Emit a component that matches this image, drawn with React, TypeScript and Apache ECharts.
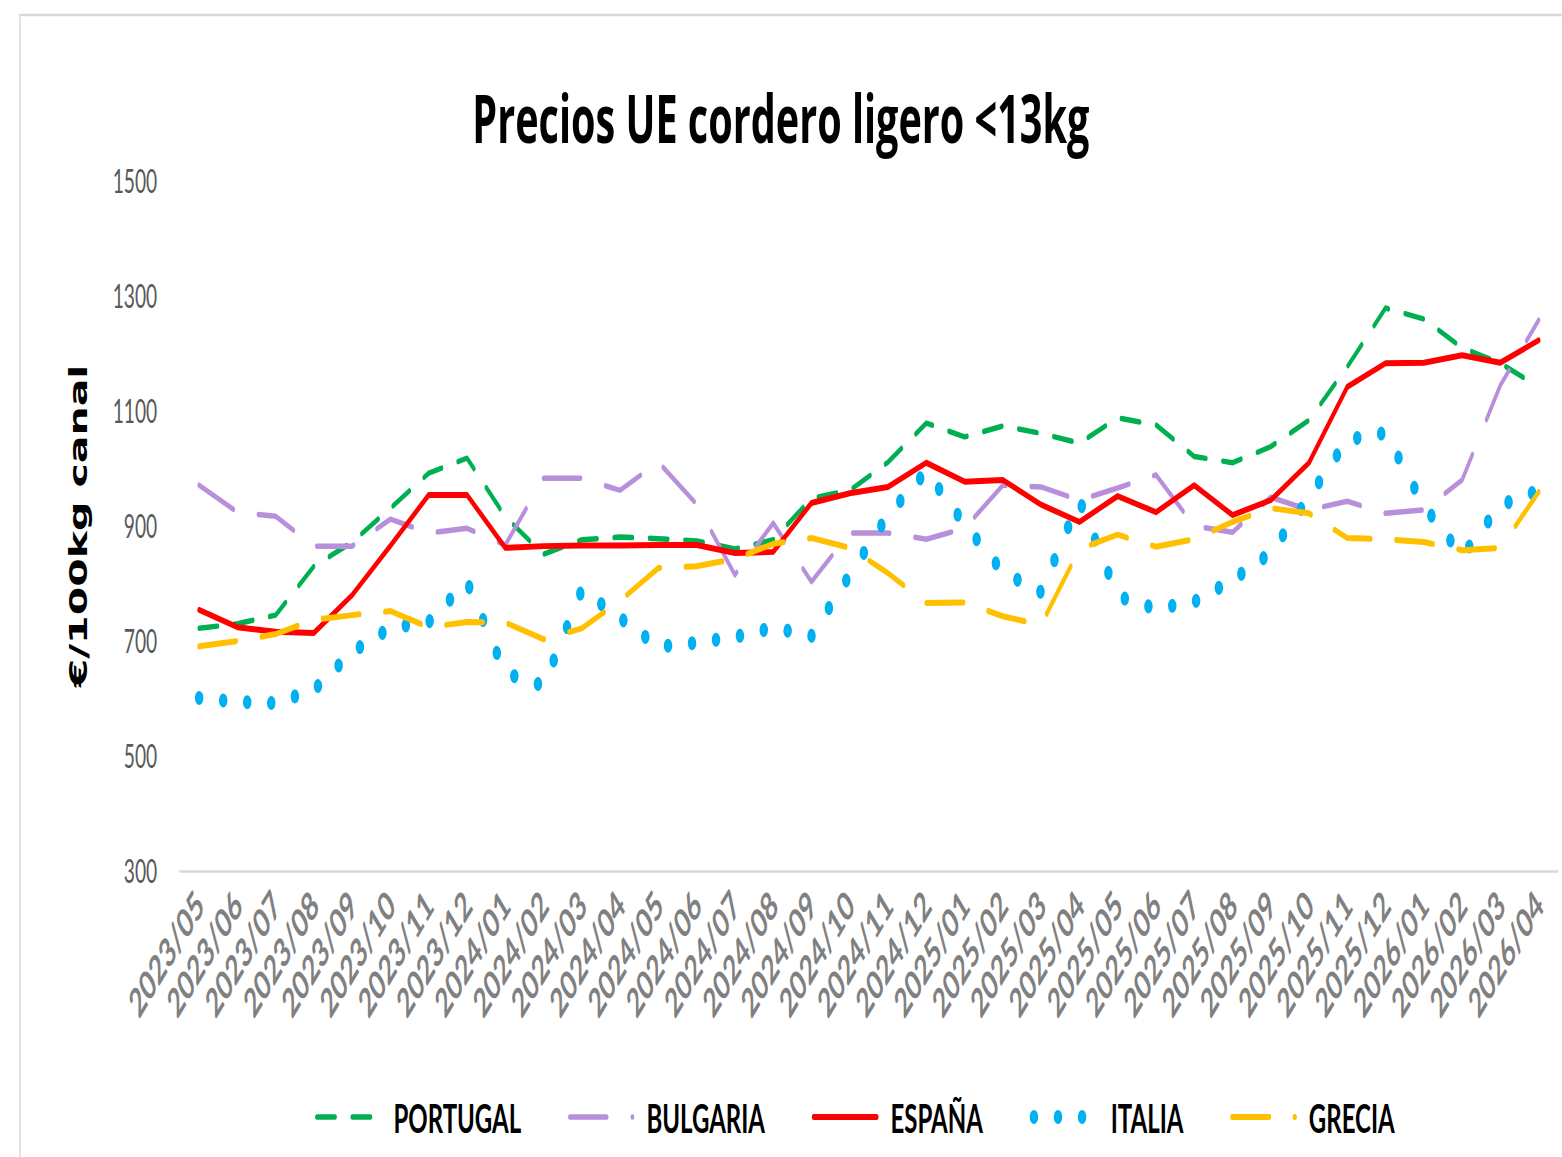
import React, { useEffect, useRef } from "react";
import * as echarts from "echarts";

const categories = [
  "2023/05", "2023/06", "2023/07", "2023/08", "2023/09", "2023/10", "2023/11", "2023/12",
  "2024/01", "2024/02", "2024/03", "2024/04", "2024/05", "2024/06", "2024/07", "2024/08",
  "2024/09", "2024/10", "2024/11", "2024/12", "2025/01", "2025/02", "2025/03", "2025/04",
  "2025/05", "2025/06", "2025/07", "2025/08", "2025/09", "2025/10", "2025/11", "2025/12",
  "2026/01", "2026/02", "2026/03", "2026/04",
];

const portugal = [
  722, 730, 745, 830, 872, 931, 992, 1018, 916, 851, 876, 881, 878, 874, 860, 876,
  948, 962, 1011, 1079, 1055, 1074, 1061, 1044, 1088, 1076, 1021, 1010, 1038, 1084, 1177, 1279,
  1260, 1210, 1183, 1142,
];

const bulgaria = [
  971, 924, 917, 865, 865, 912, 888, 896, 867, 983, 983, 962, 1011, 938, 815, 905,
  803, 888, 888, 877, 896, 971, 968, 945, 966, 989, 900, 889, 950, 928, 943, 922,
  928, 980, 1145, 1258,
];

const espana = [
  754, 724, 716, 714, 780, 866, 954, 954, 862, 865, 866, 866, 867, 867, 853, 855,
  940, 957, 968, 1010, 977, 980, 937, 907, 952, 924, 971, 919, 945, 1010, 1142, 1183,
  1184, 1197, 1184, 1223,
];

const italia = [
  601, 594, 592, 615, 681, 723, 733, 803, 644, 622, 789, 740, 690, 697, 707, 723,
  709, 815, 919, 995, 903, 820, 785, 945, 778, 756, 768, 806, 853, 950, 1050, 1062,
  935, 848, 936, 962,
];

const grecia = [
  691, 700, 712, 737, 745, 752, 724, 733, 732, 703, 722, 770, 827, 830, 843, 869,
  879, 862, 818, 766, 767, 743, 728, 860, 885, 864, 877, 907, 931, 922, 879, 877,
  872, 858, 862, 959,
];

const yTicks = { min: 300, max: 1500, interval: 200 };

// The reference picture is horizontally squeezed; the chart is laid out on a
// wider canvas and compressed with a CSS scaleX so fonts and dots look alike.
const SX = 0.6;
const W = Math.round(1562 / SX);
const H = 1157;
const X = (realX: number) => realX / SX;

const SANS = "Lato, 'Open Sans', 'Noto Sans', sans-serif";
const TITLE_FONT = "'Open Sans', Lato, 'Noto Sans', sans-serif";

export default function App() {
  const ref = useRef<HTMLDivElement>(null);

  useEffect(() => {
    if (!ref.current) return;
    const chart = echarts.init(ref.current, null, { renderer: "svg" });
    const mk = (name: string, data: number[], color: string, width: number, type: any) => ({
      name,
      type: "line",
      data,
      symbol: "none",
      showSymbol: false,
      lineStyle: { color, width, type, cap: "round", join: "round" },
      itemStyle: { color },
    });
    chart.setOption({
      animation: false,
      backgroundColor: "#ffffff",
      title: {
        text: "Precios UE cordero ligero <13kg",
        left: "center",
        top: 80,
        textStyle: {
          fontFamily: TITLE_FONT,
          fontWeight: "bold",
          fontSize: 66,
          color: "#000000",
        },
      },
      graphic: [
        {
          type: "rect",
          shape: { x: X(20), y: 15, width: W, height: 1200 },
          style: { fill: "none", stroke: "#d9d9d9", lineWidth: 2.5 },
          silent: true,
        },
      ],
      legend: {
        left: X(312),
        top: 1092,
        itemWidth: X(63),
        itemHeight: 16,
        itemGap: 78,
        itemStyle: { opacity: 0 },
        lineStyle: { width: "inherit" },
        textStyle: {
          fontFamily: SANS,
          fontWeight: "bold",
          fontSize: 40,
          color: "#000000",
          padding: [0, 0, 0, 18],
        },
        data: ["PORTUGAL", "BULGARIA", "ESPAÑA", "ITALIA", "GRECIA"],
      },
      grid: { left: X(180), right: X(4), top: 181, bottom: H - 871, containLabel: false },
      xAxis: {
        type: "category",
        data: categories,
        boundaryGap: true,
        axisLine: { show: true, lineStyle: { color: "#d9d9d9", width: 2.5 } },
        axisTick: { show: false },
        axisLabel: {
          interval: 0,
          rotate: 45,
          margin: 26,
          fontFamily: SANS,
          fontWeight: "bold",
          fontSize: 40,
          color: "#808080",
        },
      },
      yAxis: {
        type: "value",
        min: yTicks.min,
        max: yTicks.max,
        interval: yTicks.interval,
        name: "€/100kg canal",
        nameLocation: "middle",
        nameGap: 148,
        nameRotate: 90,
        nameTextStyle: {
          fontFamily: "'DejaVu Sans', sans-serif",
          fontWeight: "bold",
          fontSize: 41,
          color: "#000000",
        },
        axisLine: { show: false },
        axisTick: { show: false },
        splitLine: { show: false },
        axisLabel: {
          margin: 38,
          fontFamily: SANS,
          fontSize: 32,
          color: "#595959",
          formatter: (v: number) => String(v),
        },
      },
      series: [
        mk("PORTUGAL", portugal, "#00B050", 5.5, [31, 28]),
        mk("BULGARIA", bulgaria, "#B78FDB", 5.5, [62, 42]),
        mk("ESPAÑA", espana, "#FF0000", 6, "solid"),
        mk("ITALIA", italia, "#00B0F0", 14, [0.1, 40]),
        mk("GRECIA", grecia, "#FFC000", 6, [62, 42]),
      ],
    });
    return () => chart.dispose();
  }, []);

  return (
    <div
      style={{
        position: "fixed",
        left: 0,
        top: 0,
        width: 1562,
        height: H,
        overflow: "hidden",
        background: "#ffffff",
      }}
    >
      <div
        ref={ref}
        style={{
          width: W,
          height: H,
          transform: `scaleX(${SX})`,
          transformOrigin: "0 0",
        }}
      />
    </div>
  );
}
